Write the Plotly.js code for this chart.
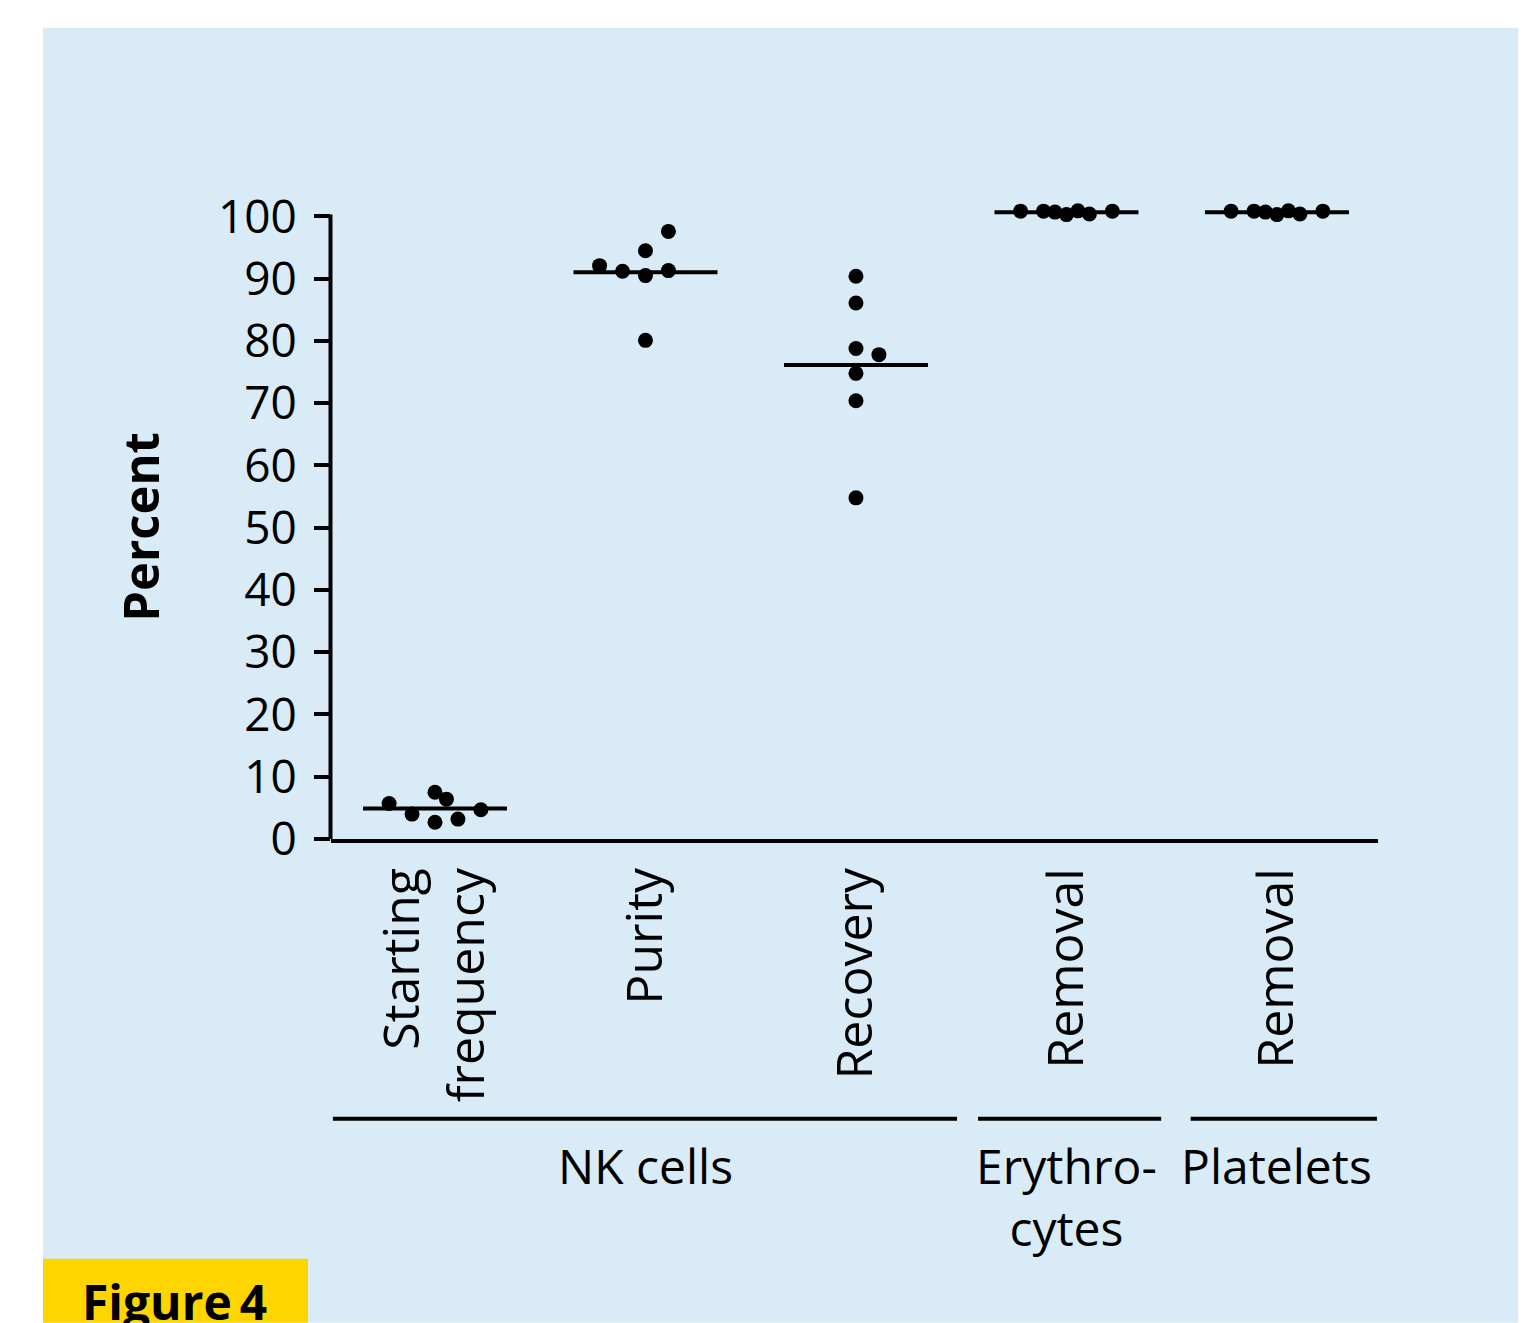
<!DOCTYPE html>
<html>
<head>
<meta charset="utf-8">
<script src="https://cdn.plot.ly/plotly-3.0.1.min.js"></script>
<style>
html,body{margin:0;padding:0;background:#fff;}
#chart{width:1538px;height:1323px;}
</style>
</head>
<body>
<div id="chart"></div>
<script>
// ---- data ----
const categories = ['Starting<br>frequency', 'Purity', 'Recovery', 'Removal', 'Removal'];
const startingFrequency = [5.7, 4.0, 7.5, 6.4, 2.7, 3.2, 4.7];
const startingSlots     = [-2, -1, 0, 0.5, 0, 1, 2];
const purity            = [92.1, 91.2, 90.5, 91.3, 94.5, 97.6, 80.1];
const puritySlots       = [-2, -1, 0, 1, 0, 1, 0];
const recovery          = [90.4, 86.1, 78.8, 77.8, 74.8, 70.4, 54.8];
const recoverySlots     = [0, 0, 0, 1, 0, 0, 0];
const erythrocyteRemoval = [100.85, 100.85, 100.7, 100.3, 100.9, 100.4, 100.85];
const erythrocyteSlots   = [-2, -1, -0.5, 0, 0.5, 1, 2];
const plateletRemoval    = [100.85, 100.85, 100.7, 100.3, 100.9, 100.4, 100.85];
const plateletSlots      = [-2, -1, -0.5, 0, 0.5, 1, 2];
const yTicks = [0, 10, 20, 30, 40, 50, 60, 70, 80, 90, 100];
const groupLabels = ['NK cells', 'Erythro-<br>cytes', 'Platelets'];
const groupStart = [0, 3, 4];
const groupEnd   = [2, 3, 4];

// ---- styling ----
const FONT = 'Open Sans, Noto Sans, sans-serif';
const SLOT = 0.109;      // horizontal spacing of overlapping dots
const HALF = 0.342;      // half-width of mean line
const groupPadL = [0.485, 0.42, 0.41];
const groupPadR = [0.48, 0.45, 0.475];
const series = [
  [startingFrequency, startingSlots],
  [purity, puritySlots],
  [recovery, recoverySlots],
  [erythrocyteRemoval, erythrocyteSlots],
  [plateletRemoval, plateletSlots]
];

// plot area in pixels (y range 0..102, so 100 sits at 216.7)
const L = 331, R = 1378, T = 204.25, B = 839.3, W = 1538, H = 1323;
const YMAX = 102;
const px = x => (x - L) / (R - L);
const py = y => (B - y) / (B - T);

const traces = [];
series.forEach(([vals, slots], i) => {
  traces.push({
    type: 'scatter', mode: 'markers',
    x: slots.map(s => i + s * SLOT), y: vals,
    marker: {color: '#000', size: 15},
    cliponaxis: false, showlegend: false, hoverinfo: 'y'
  });
  const mean = vals.reduce((a, b) => a + b, 0) / vals.length;
  traces.push({
    type: 'scatter', mode: 'lines',
    x: [i - HALF, i + HALF], y: [mean, mean],
    line: {color: '#000', width: 4},
    cliponaxis: false, showlegend: false, hoverinfo: 'skip'
  });
});

const shapes = [
  {type: 'rect', xref: 'paper', yref: 'paper', layer: 'below',
   x0: px(43), x1: px(1518), y0: py(28), y1: py(1323),
   fillcolor: '#d8ebf6', line: {width: 0}},
  {type: 'rect', xref: 'paper', yref: 'paper', layer: 'above',
   x0: px(43), x1: px(308), y0: py(1259), y1: py(1323),
   fillcolor: '#ffd500', line: {width: 0}},
  // y axis line, from 0 up to 100 only
  {type: 'line', xref: 'paper', yref: 'y', x0: px(330.5), x1: px(330.5),
   y0: -0.6, y1: 100.3, line: {color: '#000', width: 4}}
];
groupLabels.forEach((g, k) => {
  shapes.push({type: 'line', xref: 'x', yref: 'paper',
    x0: groupStart[k] - groupPadL[k], x1: groupEnd[k] + groupPadR[k],
    y0: py(1119), y1: py(1119), line: {color: '#000', width: 4}});
});

const annotations = [
  {text: '<b>Percent</b>', xref: 'paper', yref: 'paper', x: px(140), y: py(527),
   textangle: -90, showarrow: false, font: {family: FONT, size: 49, color: '#000'},
   xanchor: 'center', yanchor: 'middle'},
  {text: '<b>Figure\u20094</b>', xref: 'paper', yref: 'paper', x: px(80), y: py(1302),
   showarrow: false, font: {family: FONT, size: 48, color: '#000'},
   xanchor: 'left', yanchor: 'middle'}
];
groupLabels.forEach((g, k) => {
  const c = (groupStart[k] + groupEnd[k]) / 2;
  annotations.push({text: g, xref: 'x', yref: 'paper', x: c,
    y: py(1131), yanchor: 'top', xanchor: 'center', showarrow: false,
    font: {family: FONT, size: 48, color: '#000'}});
});

const layout = {
  width: W, height: H,
  margin: {l: L, r: W - R, t: T, b: H - B, pad: 0},
  paper_bgcolor: '#ffffff', plot_bgcolor: 'rgba(0,0,0,0)',
  font: {family: FONT, color: '#000'},
  xaxis: {
    range: [-0.494, 4.48], tickvals: [0, 1, 2, 3, 4], ticktext: categories,
    tickangle: -90, ticks: '', showline: true, linecolor: '#000', linewidth: 4,
    showgrid: false, zeroline: false, tickfont: {family: FONT, size: 50, color: '#000'},
    ticklabelstandoff: 5
  },
  yaxis: {
    range: [0, YMAX], tickvals: yTicks, ticks: 'outside', ticklen: 16, tickwidth: 4,
    tickcolor: '#000', showline: false,
    showgrid: false, zeroline: false, tickfont: {family: FONT, size: 46, color: '#000'},
    ticklabelstandoff: 8
  },
  shapes: shapes,
  annotations: annotations
};

Plotly.newPlot('chart', traces, layout, {displayModeBar: false, staticPlot: true});
</script>
</body>
</html>
